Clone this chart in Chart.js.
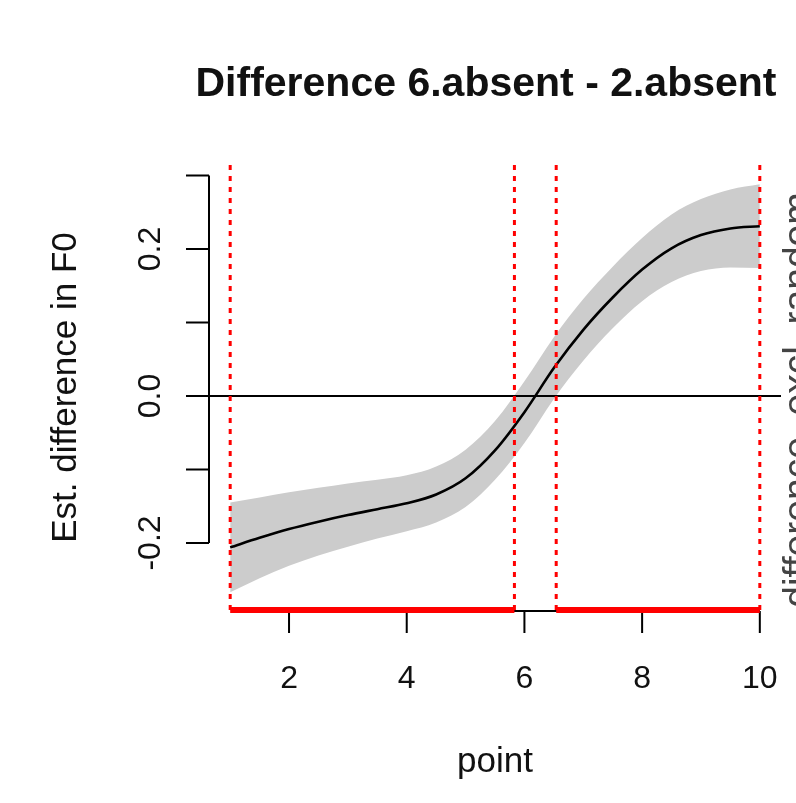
<!DOCTYPE html>
<html><head><meta charset="utf-8">
<script src="https://cdn.jsdelivr.net/npm/chart.js@4.4.1/dist/chart.umd.min.js"></script>
<style>html,body{margin:0;padding:0;background:#fff;overflow:hidden}</style>
</head><body>
<canvas id="c" width="796" height="803"></canvas>
<script>
// ---- data ----
const points    = [1, 1.5, 2, 2.5, 3, 3.5, 4, 4.5, 5, 5.5, 6, 6.5, 7, 7.5, 8, 8.5, 9, 9.5, 10];
const fitValues = [-0.206, -0.193, -0.181, -0.171, -0.162, -0.154, -0.146, -0.134, -0.112, -0.074, -0.022, 0.038, 0.090, 0.134, 0.172, 0.201, 0.219, 0.228, 0.231];
const upperCI   = [-0.145, -0.138, -0.131, -0.125, -0.119, -0.114, -0.108, -0.096, -0.073, -0.034, 0.020, 0.080, 0.132, 0.176, 0.215, 0.247, 0.268, 0.281, 0.288];
const lowerCI   = [-0.267, -0.248, -0.231, -0.217, -0.205, -0.194, -0.184, -0.172, -0.151, -0.114, -0.064, -0.004, 0.048, 0.092, 0.129, 0.155, 0.170, 0.175, 0.174];
const sigStart  = [1, 6.54];
const sigEnd    = [5.83, 10];
const xTicks    = [2, 4, 6, 8, 10];
const xTickLabels = ['2', '4', '6', '8', '10'];
const yTicks    = [-0.2, -0.1, 0.0, 0.1, 0.2, 0.3];
const yTickLabels = ['-0.2', '', '0.0', '', '0.2', ''];
const xRange    = [0.64, 10.36];
const yRange    = [-0.2912, 0.3143];
const titleText = 'Difference 6.absent - 2.absent';
const xLabel    = 'point';
const yLabel    = 'Est. difference in F0';
const sideText  = 'difference, excl. random';

const FONT = '"Liberation Sans", Arial, Helvetica, sans-serif';
const xy = (xs, ys) => xs.map((x, i) => ({x: x, y: ys[i]}));

const datasets = [];
datasets.push({data: xy(points, upperCI), borderWidth: 0, pointRadius: 0, fill: '+1',
  backgroundColor: '#cccccc', cubicInterpolationMode: 'monotone', order: 20});
datasets.push({data: xy(points, lowerCI), borderWidth: 0, pointRadius: 0, fill: false,
  cubicInterpolationMode: 'monotone', order: 19});
datasets.push({data: xy(points, fitValues), borderColor: '#000', borderWidth: 2.6, pointRadius: 0,
  fill: false, cubicInterpolationMode: 'monotone', order: 10});
datasets.push({data: [{x: xRange[0], y: 0}, {x: xRange[1], y: 0}], borderColor: '#000', borderWidth: 2,
  pointRadius: 0, fill: false, order: 9});
const bounds = sigStart.concat(sigEnd);
bounds.forEach(b => datasets.push({data: [{x: b, y: yRange[0]}, {x: b, y: yRange[1]}],
  borderColor: '#ff0000', borderWidth: 3, borderDash: [5, 6], pointRadius: 0, fill: false, order: 5}));
sigStart.forEach((s, i) => datasets.push({data: [{x: s, y: yRange[0]}, {x: sigEnd[i], y: yRange[0]}],
  borderColor: '#ff0000', borderWidth: 6, borderCapStyle: 'butt', pointRadius: 0, fill: false, clip: false, order: 1}));

const rPlot = {
  id: 'rplot',
  beforeDatasetsDraw(chart) {
    const ctx = chart.ctx, xs = chart.scales.x, ys = chart.scales.y, a = chart.chartArea;
    ctx.save();
    ctx.strokeStyle = '#000'; ctx.lineWidth = 2; ctx.lineCap = 'butt';
    // y axis
    const yl = a.left;
    ctx.beginPath();
    ctx.moveTo(yl, ys.getPixelForValue(yTicks[0]));
    ctx.lineTo(yl, ys.getPixelForValue(yTicks[yTicks.length - 1]));
    yTicks.forEach(t => { const p = ys.getPixelForValue(t); ctx.moveTo(yl, p); ctx.lineTo(yl - 23, p); });
    ctx.stroke();
    // x axis
    const xb = a.bottom + 1;
    ctx.beginPath();
    ctx.moveTo(xs.getPixelForValue(xTicks[0]), xb);
    ctx.lineTo(xs.getPixelForValue(xTicks[xTicks.length - 1]), xb);
    xTicks.forEach(t => { const p = xs.getPixelForValue(t); ctx.moveTo(p, xb); ctx.lineTo(p, xb + 22); });
    ctx.stroke();
    ctx.restore();
  },
  afterDraw(chart) {
    const ctx = chart.ctx, xs = chart.scales.x, ys = chart.scales.y, a = chart.chartArea;
    ctx.save();
    ctx.fillStyle = '#111';
    // x tick labels
    ctx.font = '32px ' + FONT; ctx.textAlign = 'center'; ctx.textBaseline = 'alphabetic';
    xTicks.forEach((t, i) => ctx.fillText(xTickLabels[i], xs.getPixelForValue(t), 688));
    // y tick labels (rotated)
    yTicks.forEach((t, i) => {
      if (!yTickLabels[i]) return;
      ctx.save(); ctx.translate(160, ys.getPixelForValue(t)); ctx.rotate(-Math.PI / 2);
      ctx.fillText(yTickLabels[i], 0, 0); ctx.restore();
    });
    // title
    ctx.font = 'bold 41px ' + FONT;
    ctx.fillText(titleText, 486, 96);
    // axis labels
    ctx.font = '35px ' + FONT;
    ctx.fillText(xLabel, 495, 772);
    ctx.save(); ctx.translate(76, (a.top + a.bottom) / 2); ctx.rotate(-Math.PI / 2);
    ctx.fillText(yLabel, 0, 0); ctx.restore();
    ctx.fillStyle = '#444';
    ctx.font = '39px ' + FONT;
    ctx.save(); ctx.translate(810, 400); ctx.rotate(-Math.PI / 2);
    ctx.fillText(sideText, 0, 0); ctx.restore();
    ctx.restore();
  }
};

new Chart(document.getElementById('c'), {
  type: 'line',
  data: {datasets: datasets},
  options: {
    responsive: false, animation: false, parsing: true,
    layout: {padding: {left: 209, right: 15, top: 165, bottom: 193}},
    plugins: {legend: {display: false}, tooltip: {enabled: false}, title: {display: false}},
    scales: {
      x: {type: 'linear', min: xRange[0], max: xRange[1], display: false},
      y: {type: 'linear', min: yRange[0], max: yRange[1], display: false}
    }
  },
  plugins: [rPlot]
});
</script>
</body></html>
